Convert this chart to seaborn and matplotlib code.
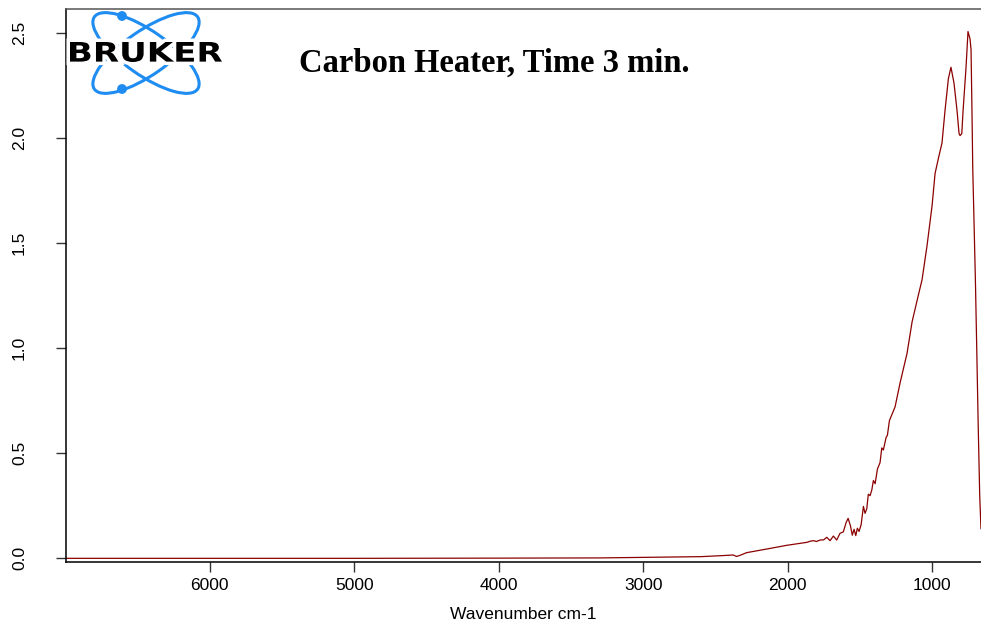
import numpy as np
import pandas as pd
import seaborn as sns
import matplotlib.pyplot as plt
from matplotlib.patches import Ellipse, Circle, PathPatch
from matplotlib.textpath import TextPath
from matplotlib.font_manager import FontProperties
from matplotlib.transforms import Affine2D
import matplotlib.patheffects as pe

# spectrum (wavenumber cm-1, absorbance)
wavenumber = [7000, 5000, 4000, 3300, 2950, 2600, 2450, 2377, 2354, 2330, 2284,
              2146, 2005, 1867, 1840, 1821, 1800, 1775, 1750, 1729, 1706, 1683,
              1660, 1637, 1614, 1595, 1581, 1565, 1552, 1540, 1528, 1517, 1505,
              1491, 1475, 1464, 1452, 1441, 1429, 1417, 1406, 1394, 1378, 1360,
              1348, 1337, 1318, 1309, 1295, 1256, 1221, 1173, 1138, 1097, 1069,
              1035, 1000, 979, 955, 931, 910, 887, 869, 848, 827, 813, 806, 794,
              785, 765, 751, 737, 730, 724, 718, 710, 700, 690, 680, 670, 661]
absorbance = [0.0, 0.0, 0.001, 0.002, 0.005, 0.008, 0.013, 0.016, 0.009, 0.014, 0.027,
              0.044, 0.062, 0.076, 0.082, 0.084, 0.080, 0.087, 0.088, 0.100, 0.084, 0.106,
              0.087, 0.119, 0.126, 0.170, 0.190, 0.155, 0.110, 0.138, 0.108, 0.143, 0.128,
              0.160, 0.247, 0.214, 0.235, 0.305, 0.298, 0.325, 0.370, 0.355, 0.425, 0.455,
              0.525, 0.515, 0.575, 0.585, 0.655, 0.720, 0.835, 0.975, 1.125, 1.245, 1.325,
              1.485, 1.675, 1.830, 1.905, 1.975, 2.130, 2.280, 2.335, 2.260, 2.130, 2.020, 2.010, 2.020,
              2.130, 2.330, 2.505, 2.470, 2.420, 2.150, 1.850, 1.620, 1.330, 0.980, 0.620, 0.300, 0.140]

title = "Carbon Heater, Time 3 min."
x_label = "Wavenumber cm-1"
x_ticks = [6000, 5000, 4000, 3000, 2000, 1000]
y_ticks = [0.0, 0.5, 1.0, 1.5, 2.0, 2.5]

df = pd.DataFrame({"wn": wavenumber, "abs": absorbance})

sns.set_theme(style="ticks")
plt.rcParams['font.family'] = ['Liberation Sans', 'DejaVu Sans']
plt.rcParams['text.color'] = 'black'
plt.rcParams['axes.labelcolor'] = 'black'
plt.rcParams['xtick.color'] = 'black'
plt.rcParams['ytick.color'] = 'black'

W, H = 981, 628
fig = plt.figure(figsize=(W / 100, H / 100), dpi=100)
ax = fig.add_axes([66 / W, 1 - 561.7 / H, (W - 66) / W, (561.7 - 9) / H])

sns.lineplot(data=df, x="wn", y="abs", ax=ax, color="#8b0000", linewidth=0.9)

ax.set_xlim(6996, 661)
ax.set_ylim(-0.016, 2.612)
ax.set_xticks(x_ticks)
ax.set_xticklabels([str(t) for t in x_ticks], fontsize=12.5)
ax.set_yticks(y_ticks)
ax.set_yticklabels([f"{t:.1f}" for t in y_ticks], fontsize=12.5, rotation=90, va="center")
ax.tick_params(direction="out", length=7, width=1, color="#333333")
ax.tick_params(axis="x", pad=5)
ax.tick_params(axis="y", pad=21)
ax.set_xlabel(x_label, fontsize=12.5, labelpad=10)
ax.set_ylabel("")
for s in ["left", "bottom"]:
    ax.spines[s].set_color("black")
    ax.spines[s].set_linewidth(1.1)
ax.spines["top"].set_color("#555555")
ax.spines["top"].set_linewidth(1.1)
ax.spines["right"].set_visible(False)

fig.text(494 / W, 1 - 72 / H, title, ha="center", va="baseline", fontsize=23.5,
         fontweight="bold", color="black", family=["Liberation Serif", "DejaVu Serif"])

# Bruker logo, drawn in image pixel coordinates
lax = fig.add_axes([66 / W, 1 - 100 / H, 170 / W, 96 / H])
lax.set_xlim(66, 236)
lax.set_ylim(100, 4)
lax.axis("off")
blue = "#1e8cf0"
for ang in (35, -35):
    lax.add_patch(Ellipse((146, 53), 126, 44, angle=ang, fill=False, ec=blue, lw=2.2))
for cy in (16, 89):
    lax.add_patch(Circle((122, cy), 4.2, color=blue))
tp = TextPath((0, 0), "BRUKER", size=20, prop=FontProperties(family="DejaVu Sans", weight="bold"))
bb = tp.get_extents()
sx = (222 - 70) / bb.width
sy = (62 - 42) / bb.height
tr = Affine2D().translate(-bb.x0, -bb.y0).scale(sx, -sy).translate(70, 62)
logo = PathPatch(tr.transform_path(tp), fc="black", ec="none",
                 path_effects=[pe.withStroke(linewidth=5, foreground="white")])
lax.add_patch(logo)

fig.savefig("out.png", dpi=100)
